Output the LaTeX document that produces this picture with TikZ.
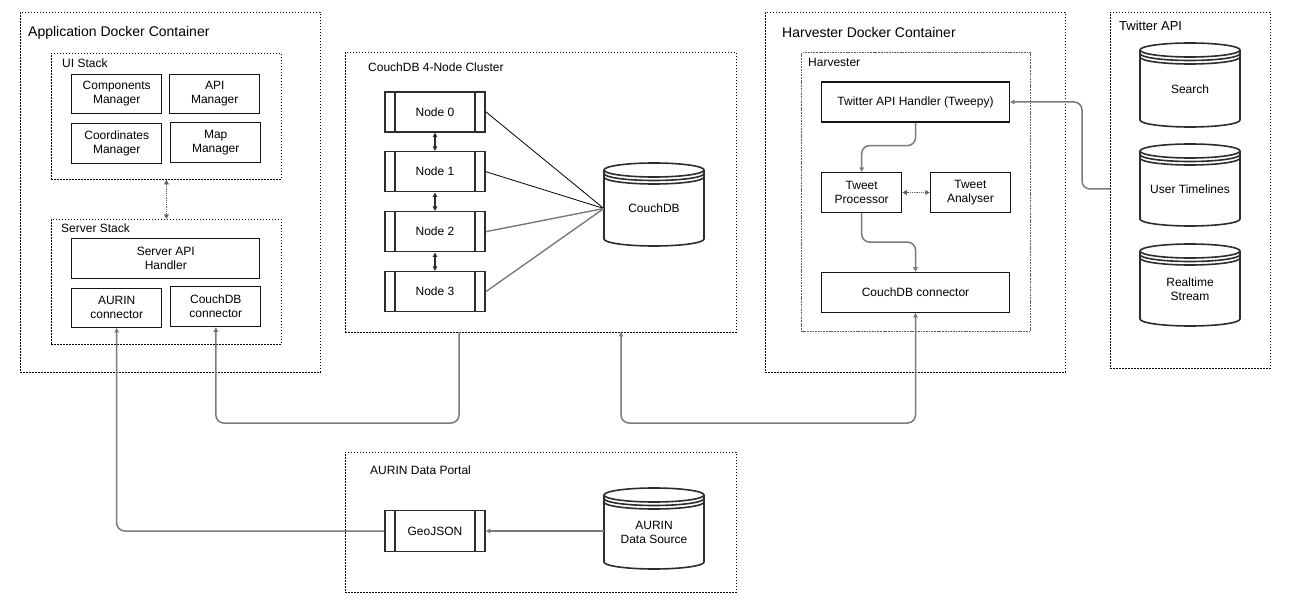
\documentclass[tikz,border=0pt]{standalone}
\usepackage{fontspec}
\setmainfont{Liberation Sans}
\usetikzlibrary{arrows.meta}
\definecolor{conncol}{RGB}{122,122,122}
\definecolor{dashcol}{RGB}{95,95,95}
\definecolor{boxcol}{RGB}{20,20,20}
\definecolor{proccol}{RGB}{45,45,45}
\newcommand{\dstore}[6]{%
 \pgfmathsetmacro\dsL{#2}\pgfmathsetmacro\dsT{#3}\pgfmathsetmacro\dsR{#2+#4}%
 \pgfmathsetmacro\dsB{#3+#5}\pgfmathsetmacro\dsRx{#4/2}%
 \draw[dsline,fill=white] (\dsL,\dsT+7) -- (\dsL,\dsB-7)
   arc[start angle=180,end angle=360,x radius=\dsRx pt,y radius=7pt] -- (\dsR,\dsT+7)
   arc[start angle=0,end angle=180,x radius=\dsRx pt,y radius=7pt]
   arc[start angle=180,end angle=360,x radius=\dsRx pt,y radius=7pt];
 \draw[dsline] (\dsL,\dsT+10.5) arc[start angle=180,end angle=360,x radius=\dsRx pt,y radius=7pt];
 \draw[dsline] (\dsL,\dsT+14) arc[start angle=180,end angle=360,x radius=\dsRx pt,y radius=7pt];
 \node[dstext,minimum width=#4pt] (#1) at (\dsL+\dsRx,\dsT+#5/2+4) {#6};
}
\tikzset{
  >={Triangle[length=4.5pt,width=4.5pt]},
  cont/.style={draw=black,line width=0.8pt,dash pattern=on 1.6pt off 1.4pt,anchor=north west,inner sep=0pt},
  contg/.style={draw=dashcol,line width=1.4pt,dash pattern=on 1.8pt off 0.9pt,anchor=north west,inner sep=0pt},
  title/.style={anchor=west,inner sep=0pt,font=\fontsize{14}{16}\selectfont},
  lbl/.style={anchor=west,inner sep=0pt,font=\fontsize{12}{14}\selectfont},
  box/.style={draw=boxcol,line width=1.2pt,fill=white,align=center,inner sep=0pt,font=\fontsize{12}{14}\selectfont},
  proc/.style={draw=proccol,line width=1.6pt,fill=white,align=center,inner sep=0pt,font=\fontsize{12}{14}\selectfont,
     minimum width=100pt,minimum height=40pt,
     path picture={\draw[draw=proccol,line width=1.6pt]
       ([xshift=10pt]path picture bounding box.north west) -- ([xshift=10pt]path picture bounding box.south west)
       ([xshift=-10pt]path picture bounding box.north east) -- ([xshift=-10pt]path picture bounding box.south east);}},
  dsline/.style={draw=proccol,line width=1.6pt},
  dstext/.style={align=center,inner sep=0pt,font=\fontsize{12}{14}\selectfont},
  conn/.style={draw=conncol,line width=1.5pt,rounded corners=8pt},
  dotarrow/.style={draw=dashcol,line width=1.6pt,dash pattern=on 1pt off 0.8pt,<->},
  nodearrow/.style={draw=proccol,line width=1.3pt,<->},
  thinlink/.style={draw=black,line width=0.8pt},
  greylink/.style={draw=conncol,line width=1.4pt},
}
\begin{document}
\begin{tikzpicture}[x=1pt,y=-1pt]
\useasboundingbox (0,0) rectangle (1296,612);

% Application Docker Container
\node[cont,minimum width=300pt,minimum height=360pt] (app) at (20,12) {};
\node[title] (apptitle) at (28,33) {Application Docker Container};
\node[cont,minimum width=230pt,minimum height=126pt] (ui) at (51,53) {};
\node[lbl] (uilbl) at (62,63) {UI Stack};
\node[box,minimum width=90pt,minimum height=39pt] (cm) at (116.7,93.8) {Components\\Manager};
\node[box,minimum width=90pt,minimum height=39pt] (am) at (214.7,93.8) {API\\Manager};
\node[box,minimum width=90pt,minimum height=40pt] (crm) at (116.7,143.3) {Coordinates\\Manager};
\node[box,minimum width=90pt,minimum height=40pt] (mm) at (215.7,142.3) {Map\\Manager};
\node[cont,minimum width=230pt,minimum height=125pt] (ss) at (51,219) {};
\node[lbl] (sslbl) at (61,228) {Server Stack};
\node[box,minimum width=188pt,minimum height=40pt] (sah) at (165.8,258.5) {Server API\\Handler};
\node[box,minimum width=90pt,minimum height=39pt] (aurinc) at (116.7,307.8) {AURIN\\connector};
\node[box,minimum width=90pt,minimum height=40pt] (dbc) at (215.8,306.7) {CouchDB\\connector};
\draw[dotarrow] (ui.south) -- (ss.north);

% CouchDB cluster
\node[cont,minimum width=391pt,minimum height=280pt] (cl) at (345,52) {};
\node[lbl] (cllbl) at (368,67) {CouchDB 4-Node Cluster};
\node[proc] (n0) at (435,111.8) {Node 0};
\node[proc] (n1) at (435,171.7) {Node 1};
\node[proc] (n2) at (435,231.7) {Node 2};
\node[proc] (n3) at (435,291.7) {Node 3};
\dstore{cdb}{604}{163}{100}{83}{CouchDB}
\draw[thinlink] (n0.east) -- (cdb.west);
\draw[thinlink] (n1.east) -- (cdb.west);
\draw[greylink] (n2.east) -- (cdb.west);
\draw[greylink] (n3.east) -- (cdb.west);
\draw[nodearrow] (n0.south) -- (n1.north);
\draw[nodearrow] (n1.south) -- (n2.north);
\draw[nodearrow] (n2.south) -- (n3.north);

% Harvester Docker Container
\node[cont,minimum width=300pt,minimum height=360pt] (hc) at (765,12) {};
\node[title] (hctitle) at (782,33) {Harvester Docker Container};
\node[contg,minimum width=229pt,minimum height=279pt] (hv) at (801,52) {};
\node[lbl] (hvlbl) at (808,62) {Harvester};
\node[box,minimum width=188pt,minimum height=40pt] (tah) at (915.5,102) {Twitter API Handler (Tweepy)};
\node[box,minimum width=80pt,minimum height=40pt] (tp) at (861.7,192.5) {Tweet\\Processor};
\node[box,minimum width=80pt,minimum height=40pt] (ta) at (970.4,192.5) {Tweet\\Analyser};
\node[box,minimum width=188pt,minimum height=40pt] (hdb) at (915.5,292.3) {CouchDB connector};
\draw[conn,->] (tah.south) -- ++(0,23) -| (tp.north);
\draw[conn,->] (tp.south) -- ++(0,29) -| (hdb.north);
\draw[dotarrow] (tp.east) -- (ta.west);

% Twitter API
\node[cont,minimum width=160pt,minimum height=356pt] (tw) at (1110,12) {};
\node[lbl,font=\fontsize{13}{15}\selectfont] (twlbl) at (1119,26) {Twitter API};
\dstore{search}{1140}{43}{100}{84}{Search}
\dstore{ut}{1140}{144}{100}{82}{User Timelines}
\dstore{rs}{1140}{244}{100}{82}{Realtime\\Stream}
\draw[conn,->] (tw.west |- ut) -- ++(-28,0) |- (tah.east);

% AURIN Data Portal
\node[cont,minimum width=391pt,minimum height=140pt] (ap) at (345,452) {};
\node[lbl] (aplbl) at (370,470) {AURIN Data Portal};
\node[proc,minimum height=41pt] (geo) at (435,531) {GeoJSON};
\dstore{aus}{604}{488}{100}{81}{AURIN\\Data Source}
\draw[conn,->] (aus.west |- geo.east) -- (geo.east);

% Cross-container connectors
\coordinate (clA) at (459,332);
\coordinate (clB) at (621,332);
\draw[conn,->] (geo.west) -| (aurinc.south);
\draw[conn,->] (clA) -- ++(0,91) -| (dbc.south);
\draw[conn,<->] (clB) -- ++(0,91) -| (hdb.south);
\end{tikzpicture}
\end{document}
